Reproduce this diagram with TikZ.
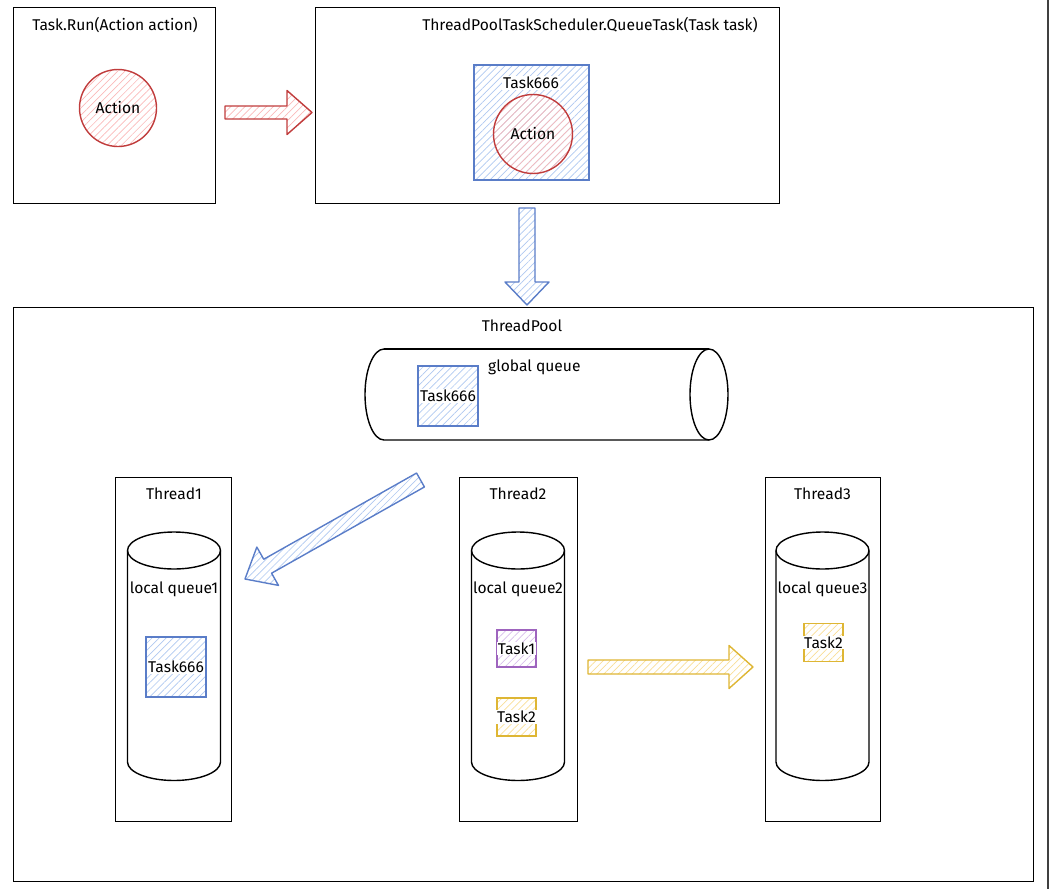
\documentclass[tikz,border=0pt]{standalone}
\usepackage{fontspec}
\setmainfont{Fira Sans}
\usetikzlibrary{calc,patterns.meta}
\definecolor{redS}{RGB}{192,60,60}
\definecolor{redH}{RGB}{250,185,185}
\definecolor{blueS}{RGB}{90,125,200}
\definecolor{blueH}{RGB}{175,200,240}
\definecolor{yelS}{RGB}{222,182,52}
\definecolor{yelH}{RGB}{248,222,150}
\definecolor{purS}{RGB}{158,100,190}
\definecolor{purH}{RGB}{215,190,235}
\tikzset{
  box/.style={draw=black, line width=1.4pt, inner sep=0pt},
  lbl/.style={font=\fontsize{15.6}{18}\selectfont, inner sep=1pt},
  wlbl/.style={lbl, fill=white},
  cyl/.style={draw=black, line width=1.4pt},
  hatch/.style={pattern={Lines[angle=45,distance=5pt,line width=0.7pt]}, pattern color=#1},
  redc/.style={draw=redS, line width=1.4pt, hatch=redH, circle, inner sep=0pt},
  bluesq/.style={draw=blueS, line width=1.4pt, hatch=blueH, inner sep=0pt},
  yelsq/.style={draw=yelS, line width=1.4pt, hatch=yelH, inner sep=0pt},
  pursq/.style={draw=purS, line width=1.4pt, hatch=purH, inner sep=0pt},
  redarr/.style={draw=redS, line width=1.4pt, line join=round, hatch=redH},
  bluearr/.style={draw=blueS, line width=1.4pt, line join=round, hatch=blueH},
  yelarr/.style={draw=yelS, line width=1.4pt, line join=round, hatch=yelH},
}
% #1 style, #2 tail, #3 tip, #4 shaft half width, #5 head half width, #6 head length
\newcommand\blockarrow[6]{%
  \coordinate (ba-c) at ($(#3)!#6!(#2)$);
  \draw[#1] ($(#2)!#4!90:(#3)$) -- ($(ba-c)!#4!90:(#3)$) -- ($(ba-c)!#5!90:(#3)$)
    -- (#3) -- ($(ba-c)!#5!-90:(#3)$) -- ($(ba-c)!#4!-90:(#3)$)
    -- ($(#2)!#4!-90:(#3)$) -- cycle;
}
\begin{document}
\begin{tikzpicture}[x=1pt,y=1pt]
\useasboundingbox (0,0) rectangle (1050,-889);

% ---------- Task.Run box ----------
\node[box, anchor=north west, minimum width=202pt, minimum height=196pt] (runbox) at (13,-7) {};
\node[lbl] (runtitle) at (115,-25) {Task.Run(Action action)};
\node[redc, minimum size=77pt] (action1) at (118,-108) {\fontsize{15.6}{18}\selectfont Action};

% ---------- QueueTask box ----------
\node[box, anchor=north west, minimum width=464pt, minimum height=196pt] (qbox) at (315,-7) {};
\node[lbl] (qtitle) at (590,-25) {ThreadPoolTaskScheduler.QueueTask(Task task)};
\node[bluesq, minimum width=115pt, minimum height=115pt] (task666a) at (531.5,-122.5) {};
\node[wlbl] (task666alabel) at (531,-83) {Task666};
\node[redc, minimum size=79pt] (action2) at (533,-134) {\fontsize{15.6}{18}\selectfont Action};

% ---------- ThreadPool ----------
\node[box, anchor=north west, minimum width=1020pt, minimum height=574pt] (pool) at (13,-307) {};
\node[lbl] (pooltitle) at (522,-326) {ThreadPool};

% global queue (horizontal cylinder)
\coordinate (gq) at (546,-394.5);
\draw[cyl] (384,-349) -- (709,-349);
\draw[cyl] (384,-349) arc[start angle=90, end angle=270, x radius=19, y radius=45.5] -- (709,-440);
\draw[cyl] (709,-394.5) ellipse[x radius=19, y radius=45.5];
\node[lbl, anchor=west] (gqlabel) at (487,-367) {global queue};
\node[bluesq, minimum width=60pt, minimum height=60pt] (task666b) at (448,-396) {};
\node[wlbl] (task666blabel) at (448,-396) {Task666};

% threads
\foreach \nm/\cx/\l/\r in {1/174/115/231, 2/518/459/577, 3/822.5/765/880}{
  \node[box, anchor=north west, minimum width=\r pt-\l pt, minimum height=344pt] (thread\nm) at (\l,-477) {};
  \node[lbl] (threadtitle\nm) at (\cx,-494) {Thread\nm};
  \draw[cyl] (\cx-46.5,-550.5) -- (\cx-46.5,-762)
     arc[start angle=180, end angle=360, x radius=46.5, y radius=18.5] -- (\cx+46.5,-550.5);
  \draw[cyl] (\cx,-550.5) ellipse[x radius=46.5, y radius=18.5];
  \node[lbl] (lq\nm) at (\cx,-589) {local queue\nm};
}

% tasks in local queues
\node[bluesq, minimum width=60pt, minimum height=60pt] (task666c) at (176,-667) {};
\node[wlbl] (task666clabel) at (176,-667) {Task666};
\node[pursq, minimum width=39pt, minimum height=37pt] (task1) at (516.5,-648.5) {};
\node[wlbl] (task1label) at (516.5,-648.5) {Task1};
\node[yelsq, minimum width=39pt, minimum height=38pt] (task2a) at (516.5,-717) {};
\node[wlbl] (task2alabel) at (516.5,-717) {Task2};
\node[yelsq, minimum width=39pt, minimum height=38pt] (task2b) at (823.5,-642.5) {};
\node[wlbl] (task2blabel) at (823.5,-642.5) {Task2};

% ---------- block arrows ----------
\coordinate (ra-s) at (225,-112.5);
\coordinate (ra-t) at (312,-112.5);
\blockarrow{redarr}{ra-s}{ra-t}{6.5pt}{22pt}{25pt}
\coordinate (da-s) at (527,-208);
\coordinate (da-t) at (527,-305);
\blockarrow{bluearr}{da-s}{da-t}{8pt}{22pt}{23pt}
\coordinate (ga-s) at (420.5,-480);
\coordinate (ga-t) at (245,-579);
\blockarrow{bluearr}{ga-s}{ga-t}{8pt}{22pt}{26pt}
\coordinate (ya-s) at (588,-667);
\coordinate (ya-t) at (753,-667);
\blockarrow{yelarr}{ya-s}{ya-t}{7pt}{21.5pt}{24pt}

% screenshot edge
\draw[line width=1.5pt, black!75] (1048,0) -- (1048,-889);
\end{tikzpicture}
\end{document}
